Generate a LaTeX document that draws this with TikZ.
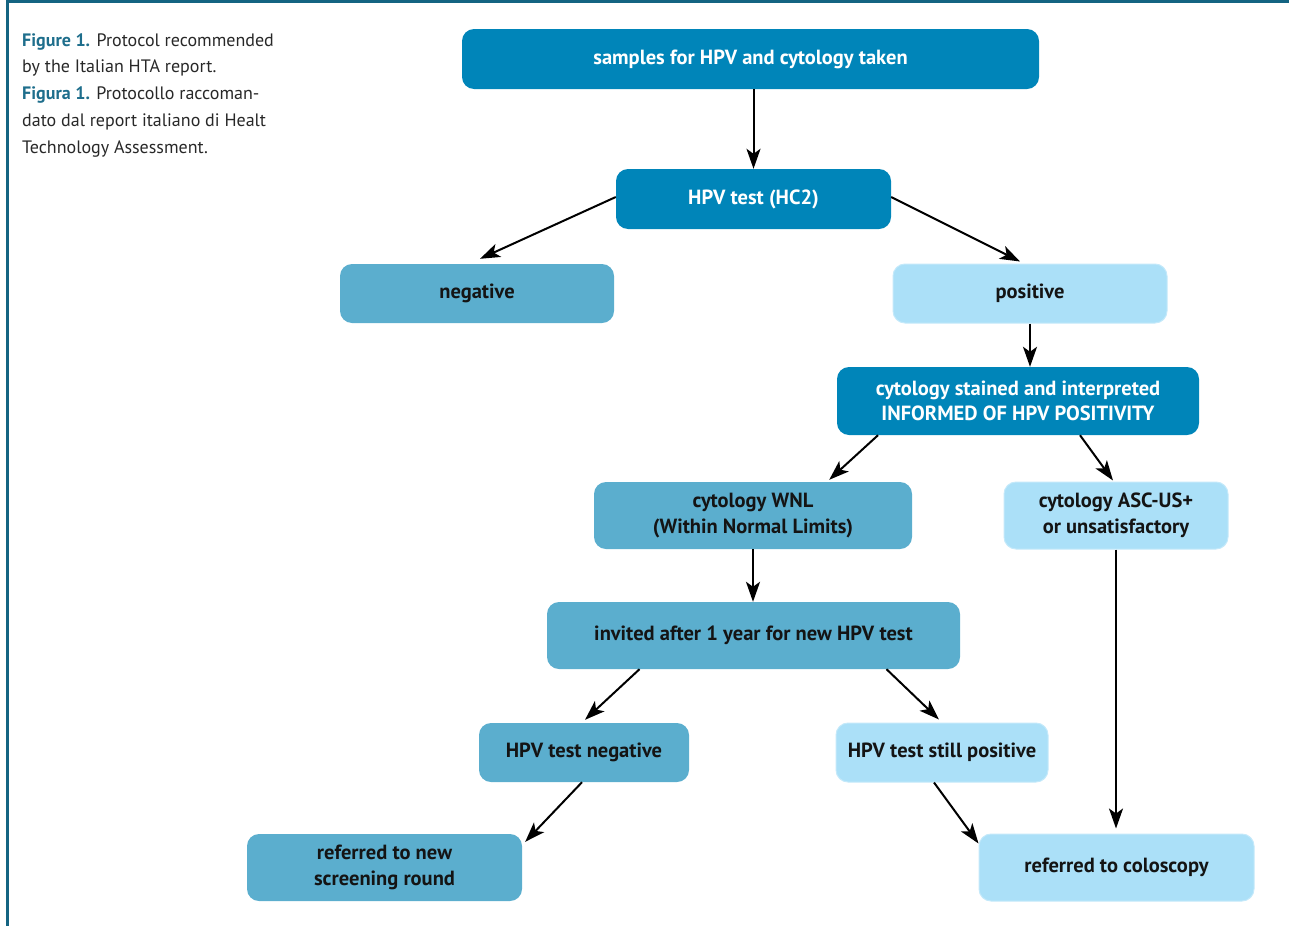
\documentclass[tikz,border=0pt]{standalone}
\usepackage{fontspec}
\setmainfont{PT Sans}
\usetikzlibrary{arrows.meta}
\definecolor{dkblue}{RGB}{0,133,185}
\definecolor{mdblue}{RGB}{91,174,206}
\definecolor{ltblue}{RGB}{171,224,248}
\definecolor{rulecol}{RGB}{20,100,130}
\definecolor{figblue}{RGB}{30,110,140}
\definecolor{captext}{RGB}{40,40,40}
\definecolor{boxtext}{RGB}{20,20,20}
\begin{document}
\begin{tikzpicture}[x=1pt,y=-1pt,
  box/.style={rounded corners=12pt, minimum height=60pt, align=center, inner sep=0pt,
    font=\bfseries\fontsize{20.5}{25.5}\selectfont},
  dark/.style={box, fill=dkblue, text=white},
  mid/.style={box, fill=mdblue, text=boxtext},
  light/.style={box, fill=ltblue, draw=ltblue!70!white, line width=1pt, text=boxtext},
  arr/.style={-{Stealth[length=20pt,width=14pt,inset=5pt]}, line width=2pt, black}]
\useasboundingbox (0,0) rectangle (1289,926);
% frame rules
\fill[rulecol] (6,0) rectangle (1289,3);
\fill[rulecol] (6,0) rectangle (9,926);
% caption
\node[anchor=north west, align=left, inner sep=0pt, text=captext,
  font=\fontsize{18}{26.75}\selectfont] (cap) at (22,33)
  {\textcolor{figblue}{\bfseries Figure 1.} Protocol recommended\\
   by the Italian HTA report.\\
   \textcolor{figblue}{\bfseries Figura 1.} Protocollo raccoman-\\
   dato dal report italiano di Healt\\
   Technology Assessment.};
% boxes
\node[dark, minimum width=577pt] (samples) at (750.5,59) {samples for HPV and cytology taken};
\node[dark, minimum width=275pt] (hpv) at (753.5,199) {HPV test (HC2)};
\node[mid, minimum width=274pt, minimum height=59pt] (neg) at (477,293.5) {negative};
\node[light, minimum width=274pt, minimum height=59pt] (pos) at (1030,293.5) {positive};
\node[dark, minimum width=362pt, minimum height=68pt] (stained) at (1018,401)
  {cytology stained and interpreted\\INFORMED OF HPV POSITIVITY};
\node[mid, minimum width=318pt, minimum height=67pt] (wnl) at (753,515.5)
  {cytology WNL\\(Within Normal Limits)};
\node[light, minimum width=224pt, minimum height=67pt] (asc) at (1116,515.5)
  {cytology ASC-US+\\or unsatisfactory};
\node[mid, minimum width=413pt, minimum height=67pt] (inv) at (753.5,635.5)
  {invited after 1 year for new HPV test};
\node[mid, minimum width=210pt, minimum height=59pt] (hneg) at (584,752.5) {HPV test negative};
\node[light, minimum width=212pt, minimum height=59pt] (hpos) at (942,752.5) {HPV test still positive};
\node[mid, minimum width=275pt, minimum height=67pt] (refnew) at (384.5,867.5)
  {referred to new\\screening round};
\node[light, minimum width=275pt, minimum height=67pt] (colo) at (1116.5,867.5)
  {referred to coloscopy};
% connectors
\draw[arr] (hpv.north |- samples.south) -- (hpv.north);
\draw[arr] ([yshift=2pt]hpv.west) -- ([shift={(3pt,5pt)}]neg.north);
\draw[arr] ([yshift=2pt]hpv.east) -- ([shift={(-10pt,2pt)}]pos.north);
\draw[arr] (pos.south) -- (pos.south |- stained.north);
\draw[arr] ([xshift=-140pt]stained.south) -- ([shift={(-83pt,2pt)}]wnl.north east);
\draw[arr] ([xshift=62pt]stained.south) -- ([shift={(-3pt,1pt)}]asc.north);
\draw[arr] (wnl.south) -- (inv.north -| wnl.south);
\draw[arr] ([xshift=-114pt]inv.south) -- ([shift={(1pt,3pt)}]hneg.north);
\draw[arr] ([xshift=133pt]inv.south) -- ([shift={(-3pt,3pt)}]hpos.north);
\draw[arr] ([xshift=-2pt]hneg.south) -- ([shift={(3pt,-8pt)}]refnew.north east);
\draw[arr] ([xshift=-8pt]hpos.south) -- ([yshift=-10pt]colo.north west);
\draw[arr] (asc.south) -- ([yshift=5pt]asc.south |- colo.north);
\end{tikzpicture}
\end{document}
